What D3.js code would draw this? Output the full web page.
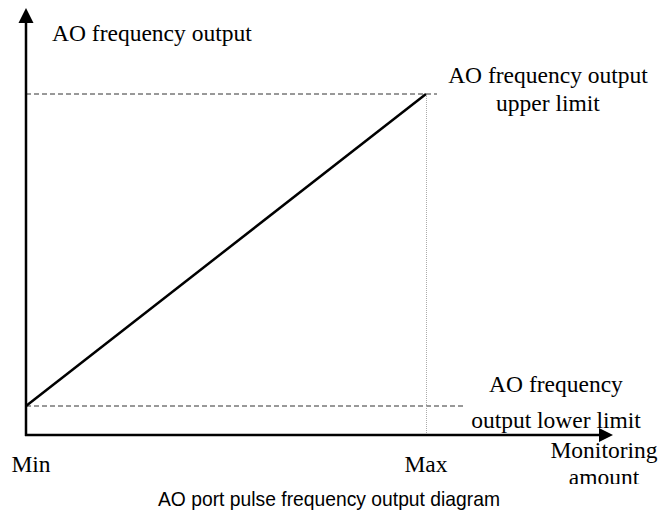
<!DOCTYPE html>
<html>
<head>
<meta charset="UTF-8"/>
<style>body{margin:0;background:#fff;}</style>
</head>
<body>
<script src="https://cdn.jsdelivr.net/npm/d3@7"></script>
<script>
// chart data
var ends = ["Min", "Max"];            // monitoring amount range (x)
var output = [0, 1];                  // 0 = lower limit, 1 = upper limit (y)
var yTitle = "AO frequency output";
var xTitle = ["Monitoring", "amount"];
var upperLabel = ["AO frequency output", "upper limit"];
var lowerLabel = ["AO frequency", "output lower limit"];
var caption = "AO port pulse frequency output diagram";

var width = 662, height = 510;
var ox = 26, oy = 435;   // where the two axes meet
var serif = "'Liberation Serif', 'Times New Roman', serif";

var x = d3.scalePoint().domain(ends).range([26, 426]);
var y = d3.scaleLinear().domain([0, 1]).range([406, 94]);

var svg = d3.select("body").append("svg")
    .attr("width", width)
    .attr("height", height);

svg.append("clipPath").attr("id", "cut")
  .append("rect").attr("x", 0).attr("y", 0).attr("width", width).attr("height", 484);

// guide lines
svg.append("line")
    .attr("x1", ox).attr("x2", x("Max") + 11)
    .attr("y1", y(1)).attr("y2", y(1))
    .attr("stroke", "#333").attr("stroke-width", 1).attr("stroke-dasharray", "5,3");
svg.append("line")
    .attr("x1", ox).attr("x2", x("Max") + 37)
    .attr("y1", y(0)).attr("y2", y(0))
    .attr("stroke", "#333").attr("stroke-width", 1).attr("stroke-dasharray", "5,3");
svg.append("line")
    .attr("x1", x("Max") + 0.5).attr("x2", x("Max") + 0.5)
    .attr("y1", y(1)).attr("y2", oy)
    .attr("stroke", "#aaa").attr("stroke-width", 1).attr("stroke-dasharray", "1,1");

// the output line
var line = d3.line()
    .x(function(d, i) { return x(ends[i]); })
    .y(function(d) { return y(d); });
svg.append("path")
    .datum(output)
    .attr("d", line)
    .attr("fill", "none")
    .attr("stroke", "#000")
    .attr("stroke-width", 2.5);

// axes with arrow heads
svg.append("line")
    .attr("x1", ox).attr("x2", ox).attr("y1", oy + 1).attr("y2", 20)
    .attr("stroke", "#000").attr("stroke-width", 2.5);
svg.append("path")
    .attr("d", "M" + ox + ",8 L" + (ox + 7.5) + ",23 L" + (ox - 7.5) + ",23 Z")
    .attr("fill", "#000");
svg.append("line")
    .attr("x1", ox - 1).attr("x2", 602).attr("y1", oy).attr("y2", oy)
    .attr("stroke", "#000").attr("stroke-width", 2.5);
svg.append("path")
    .attr("d", "M613," + oy + " L599," + (oy - 7) + " L599," + (oy + 7) + " Z")
    .attr("fill", "#000");

// texts
function label(lines, cx, ys, anchor) {
  lines.forEach(function(t, i) {
    svg.append("text")
      .attr("x", cx).attr("y", ys[i])
      .attr("text-anchor", anchor)
      .attr("font-family", serif)
      .attr("font-size", 23.5)
      .attr("fill", "#000")
      .text(t);
  });
}
label([yTitle], 52, [41], "start");
label(upperLabel, 548, [83, 111], "middle");
label(lowerLabel, 556, [392, 428], "middle");
label([xTitle[0]], 604, [458], "middle");

svg.append("text")
    .attr("x", 604).attr("y", 485)
    .attr("text-anchor", "middle")
    .attr("font-family", serif)
    .attr("font-size", 23.5)
    .attr("clip-path", "url(#cut)")
    .text(xTitle[1]);

svg.selectAll("text.end")
  .data(ends)
  .enter().append("text")
    .attr("class", "end")
    .attr("x", function(d) { return x(d) + (d == "Min" ? 5 : 0); })
    .attr("y", 472)
    .attr("text-anchor", "middle")
    .attr("font-family", serif)
    .attr("font-size", 23.5)
    .text(function(d) { return d; });

// caption, narrow like the original
svg.append("text")
    .attr("x", 158).attr("y", 506)
    .attr("text-anchor", "start")
    .attr("font-family", "'Liberation Sans', Arial, sans-serif")
    .attr("font-size", 21)
    .attr("textLength", 342)
    .attr("lengthAdjust", "spacingAndGlyphs")
    .text(caption);
</script>
</body>
</html>
